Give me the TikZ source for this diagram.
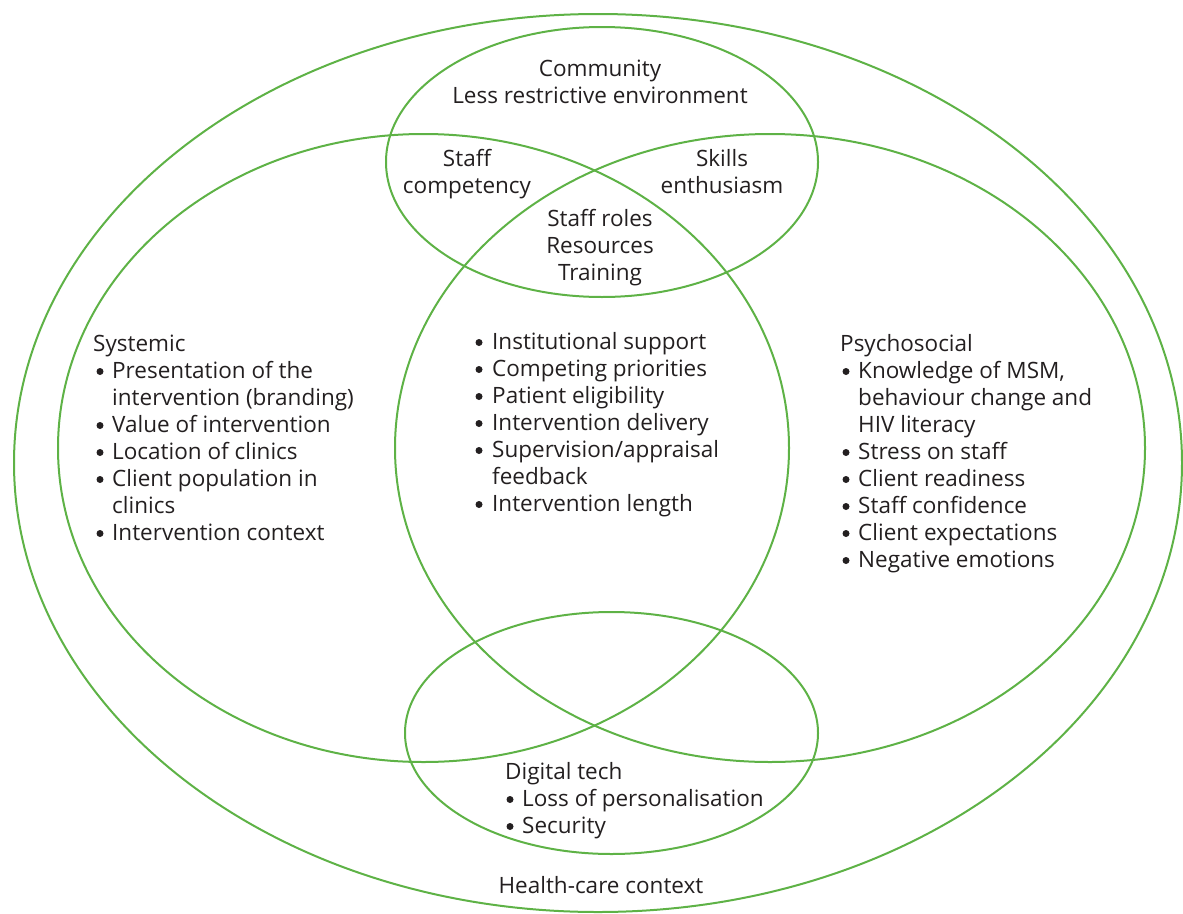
\documentclass[tikz,border=0pt]{standalone}
\usepackage{fontspec}
\setmainfont{Open Sans}
\definecolor{venn}{RGB}{94,178,70}
\definecolor{ink}{RGB}{35,31,32}
\begin{document}
\begin{tikzpicture}[x=1pt,y=-1pt,
  ring/.style={draw=venn,line width=2pt},
  lbl/.style={inner sep=0pt,text=ink,font=\fontsize{22.5}{27}\selectfont},
  lw/.style={lbl,anchor=base west},
  lc/.style={lbl,anchor=base},
  bul/.style={circle,fill=ink,inner sep=0pt,minimum size=7pt},
  ]
\useasboundingbox (0,0) rectangle (1183,913);
% circles
\draw[ring] (598,463) ellipse [x radius=584pt,y radius=449pt];
\draw[ring] (423.5,448) ellipse [x radius=365.5pt,y radius=314pt];
\draw[ring] (770,448) ellipse [x radius=375pt,y radius=314pt];
\draw[ring] (602,162) ellipse [x radius=216pt,y radius=135pt];
\draw[ring] (611.5,733) ellipse [x radius=206.5pt,y radius=121pt];
% top
\node[lc] (comm) at (600,76) {Community};
\node[lc] (less) at (600,103) {Less restrictive environment};
\node[lc] (staff) at (467,166) {Staff};
\node[lc] (comp) at (467,193) {competency};
\node[lc] (skills) at (722,166) {Skills};
\node[lc] (enth) at (722,193) {enthusiasm};
\node[lc] (roles) at (600,226) {Staff roles};
\node[lc] (res) at (600,253) {Resources};
\node[lc] (train) at (600,280) {Training};
% systemic
\node[lw] (sys) at (93,351) {Systemic};
\foreach \t/\b [count=\i] in {{Presentation of the}/1,{intervention (branding)}/0,{Value of intervention}/1,{Location of clinics}/1,{Client population in}/1,{clinics}/0,{Intervention context}/1}{
  \node[lw] (sys\i) at (112,{378+27*(\i-1)}) {\t};
  \ifnum\b=1 \node[bul] (sysb\i) at (100,{371.5+27*(\i-1)}) {};\fi
}
% middle
\foreach \t/\b [count=\i] in {{Institutional support}/1,{Competing priorities}/1,{Patient eligibility}/1,{Intervention delivery}/1,{Supervision/appraisal}/1,{feedback}/0,{Intervention length}/1}{
  \node[lw] (mid\i) at (492,{349+27*(\i-1)}) {\t};
  \ifnum\b=1 \node[bul] (midb\i) at (479,{342.5+27*(\i-1)}) {};\fi
}
% psychosocial
\node[lw] (psy) at (840,351) {Psychosocial};
\foreach \t/\b [count=\i] in {{Knowledge of MSM,}/1,{behaviour change and}/0,{HIV literacy}/0,{Stress on staff}/1,{Client readiness}/1,{Staff confidence}/1,{Client expectations}/1,{Negative emotions}/1}{
  \node[lw] (psy\i) at (858,{378+27*(\i-1)}) {\t};
  \ifnum\b=1 \node[bul] (psyb\i) at (846,{371.5+27*(\i-1)}) {};\fi
}
% digital
\node[lw] (dig) at (505,779) {Digital tech};
\node[lw] (loss) at (522,806) {Loss of personalisation};
\node[bul] (lossb) at (510,799.5) {};
\node[lw] (sec) at (522,833) {Security};
\node[bul] (secb) at (510,826.5) {};
% outer
\node[lc] (hc) at (601,893) {Health-care context};
\end{tikzpicture}
\end{document}
